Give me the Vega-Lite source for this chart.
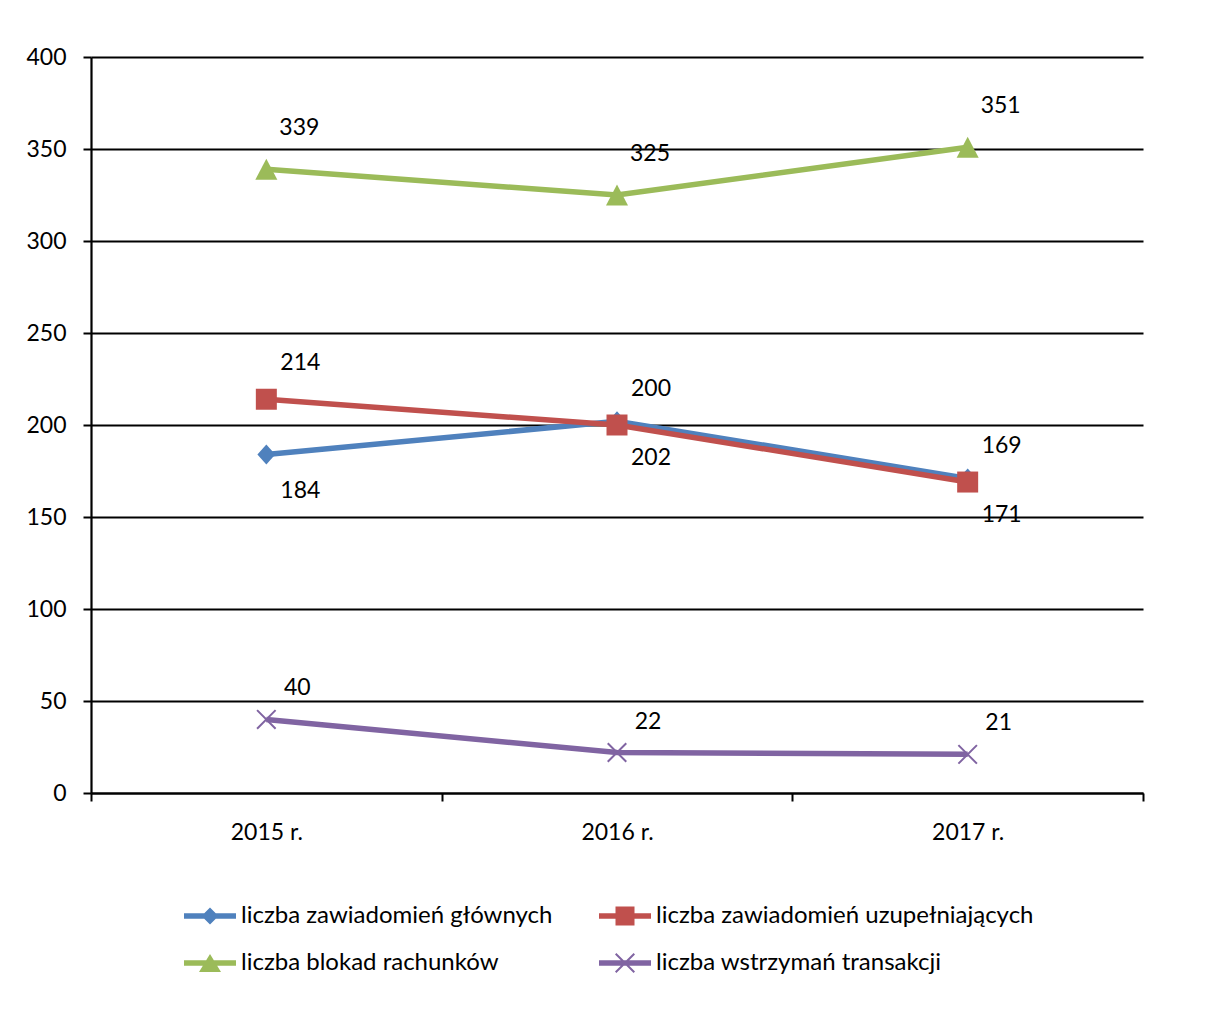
{
  "$schema": "https://vega.github.io/schema/vega-lite/v6.json",
  "width": 1052,
  "height": 736,
  "autosize": "none",
  "padding": {"left": 91, "top": 57, "right": 65, "bottom": 226},
  "background": "white",
  "config": {"font": "Lato", "view": {"stroke": null}},
  "data": {"values": [
    {"year": "2015 r.", "series": "liczba zawiadomień głównych", "value": 184},
    {"year": "2016 r.", "series": "liczba zawiadomień głównych", "value": 202},
    {"year": "2017 r.", "series": "liczba zawiadomień głównych", "value": 171},
    {"year": "2015 r.", "series": "liczba zawiadomień uzupełniających", "value": 214},
    {"year": "2016 r.", "series": "liczba zawiadomień uzupełniających", "value": 200},
    {"year": "2017 r.", "series": "liczba zawiadomień uzupełniających", "value": 169},
    {"year": "2015 r.", "series": "liczba blokad rachunków", "value": 339},
    {"year": "2016 r.", "series": "liczba blokad rachunków", "value": 325},
    {"year": "2017 r.", "series": "liczba blokad rachunków", "value": 351},
    {"year": "2015 r.", "series": "liczba wstrzymań transakcji", "value": 40},
    {"year": "2016 r.", "series": "liczba wstrzymań transakcji", "value": 22},
    {"year": "2017 r.", "series": "liczba wstrzymań transakcji", "value": 21}
  ]},
  "encoding": {
    "x": {
      "field": "year", "type": "ordinal", "bandPosition": 0.5,
      "scale": {"type": "band", "paddingInner": 0, "paddingOuter": 0},
      "axis": {
        "title": null, "labelAngle": 0, "labelFontSize": 23, "labelColor": "black",
        "labelPadding": 20, "tickBand": "extent", "tickColor": "black", "tickSize": 8,
        "tickWidth": 2, "domainColor": "black", "domainWidth": 2.2, "grid": false
      }
    },
    "y": {
      "field": "value", "type": "quantitative",
      "scale": {"domain": [0, 400], "nice": false},
      "axis": {
        "title": null, "values": [0, 50, 100, 150, 200, 250, 300, 350, 400],
        "labelFontSize": 23, "labelColor": "black", "labelPadding": 17,
        "tickColor": "black", "tickSize": 8, "tickWidth": 2,
        "domainColor": "black", "domainWidth": 2.2,
        "grid": true, "gridColor": "black", "gridWidth": 2.2
      }
    }
  },
  "layer": [
    {
      "mark": {"type": "line", "strokeWidth": 5.5},
      "encoding": {
        "color": {
          "field": "series", "type": "nominal",
          "scale": {
            "domain": ["liczba zawiadomień głównych", "liczba blokad rachunków", "liczba zawiadomień uzupełniających", "liczba wstrzymań transakcji"],
            "range": ["#4F81BD", "#9BBB59", "#C0504D", "#8064A2"]
          },
          "legend": {
            "orient": "none", "legendX": 91, "legendY": 847, "columns": 2,
            "title": null, "labelFontSize": 24, "labelColor": "black",
            "symbolSize": 400, "symbolOffset": 16, "labelOffset": 19,
            "rowPadding": 23, "columnPadding": 44, "padding": 0,
            "labelLimit": 600, "symbolType": "square", "symbolStrokeWidth": 0,
            "symbolFillColor": "#888888",
            "encode": {
              "symbols": {
                "update": {
                  "shape": {"signal": "datum.value === 'liczba zawiadomień głównych' ? 'M-2.6,-0.28H2.6V0.28H-2.6Z M0,-0.85L0.85,0L0,0.85L-0.85,0Z' : datum.value === 'liczba zawiadomień uzupełniających' ? 'M-2.6,-0.28H2.6V0.28H-2.6Z M-0.95,-0.95H0.95V0.95H-0.95Z' : datum.value === 'liczba blokad rachunków' ? 'M-2.6,-0.28H2.6V0.28H-2.6Z M0,-0.9L1.1,0.9H-1.1Z' : 'M-2.6,-0.28H2.6V0.28H-2.6Z M-1,-0.86L-0.86,-1L1,0.86L0.86,1Z M0.86,-1L1,-0.86L-0.86,1L-1,0.86Z'"},
                  "fill": {"signal": "scale('color', datum.value)"},
                  "strokeWidth": {"value": 0},
                  "opacity": {"value": 1},
                  "size": {"value": 400}
                }
              }
            }
          }
        }
      }
    },
    {
      "transform": [{"filter": "datum.series === 'liczba zawiadomień głównych'"}],
      "mark": {"type": "point", "filled": true, "opacity": 1, "size": 441, "shape": "M0,-0.95L0.85,0L0,0.95L-0.85,0Z"},
      "encoding": {"color": {"field": "series", "type": "nominal"}}
    },
    {
      "transform": [{"filter": "datum.series === 'liczba zawiadomień uzupełniających'"}],
      "mark": {"type": "point", "filled": true, "opacity": 1, "size": 441, "shape": "M-1,-1H1V1H-1Z"},
      "encoding": {"color": {"field": "series", "type": "nominal"}}
    },
    {
      "transform": [{"filter": "datum.series === 'liczba blokad rachunków'"}],
      "mark": {"type": "point", "filled": true, "opacity": 1, "size": 441, "shape": "M0,-1L1.05,1H-1.05Z"},
      "encoding": {"color": {"field": "series", "type": "nominal"}}
    },
    {
      "transform": [{"filter": "datum.series === 'liczba wstrzymań transakcji'"}],
      "mark": {"type": "point", "filled": true, "opacity": 1, "size": 441, "shape": "M-0.95,-0.815L-0.815,-0.95L0.95,0.815L0.815,0.95Z M0.815,-0.95L0.95,-0.815L-0.815,0.95L-0.95,0.815Z"},
      "encoding": {"color": {"field": "series", "type": "nominal"}}
    },
    {
      "transform": [{"filter": "datum.series === 'liczba zawiadomień głównych'"}],
      "mark": {"type": "text", "fontSize": 23, "color": "black", "dx": 34, "dy": 37},
      "encoding": {"text": {"field": "value", "type": "quantitative"}}
    },
    {
      "transform": [{"filter": "datum.series === 'liczba zawiadomień uzupełniających'"}],
      "mark": {"type": "text", "fontSize": 23, "color": "black", "dx": 34, "dy": -36},
      "encoding": {"text": {"field": "value", "type": "quantitative"}}
    },
    {
      "transform": [{"filter": "datum.series === 'liczba blokad rachunków'"}],
      "mark": {"type": "text", "fontSize": 23, "color": "black", "dx": 33, "dy": -41},
      "encoding": {"text": {"field": "value", "type": "quantitative"}}
    },
    {
      "transform": [{"filter": "datum.series === 'liczba wstrzymań transakcji'"}],
      "mark": {"type": "text", "fontSize": 23, "color": "black", "dx": 31, "dy": -31},
      "encoding": {"text": {"field": "value", "type": "quantitative"}}
    }
  ]
}
